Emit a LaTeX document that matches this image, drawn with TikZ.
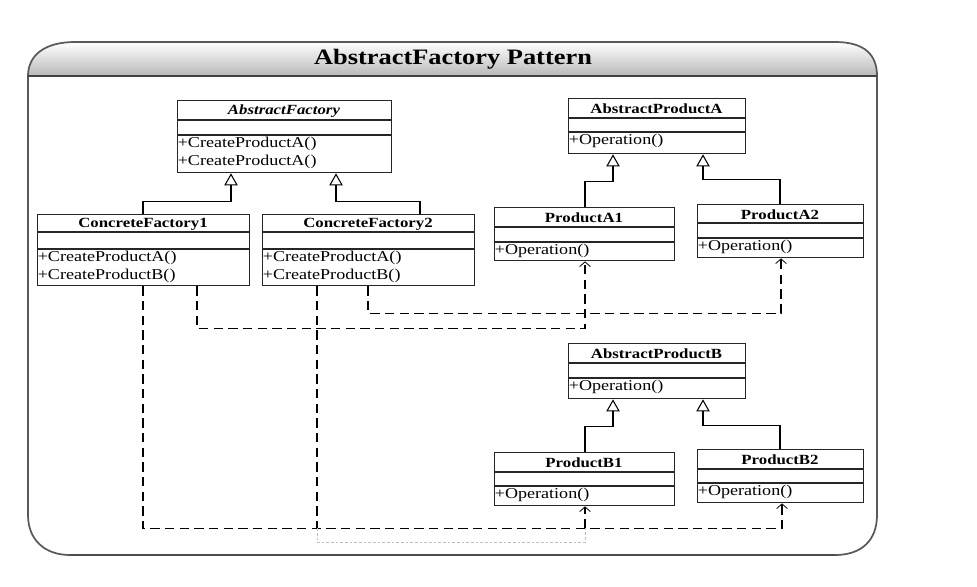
\documentclass[tikz,border=0pt]{standalone}
\usepackage{fontspec}
\setmainfont{Liberation Serif}[FakeStretch=1.2]
\usetikzlibrary{arrows.meta,calc}
\tikzset{
  classbox/.style={draw=black!85, line width=1pt, rectangle, inner sep=0pt, fill=white},
  sepline/.style={draw=black!85, line width=0.8pt},
  clstitle/.style={inner sep=0pt, font=\bfseries\fontsize{10.5}{12}\selectfont},
  clsmeth/.style={anchor=north west, align=left, inner xsep=0.4pt, inner ysep=1.5pt, font=\fontsize{11.3}{13.6}\selectfont},
  inh/.style={draw=black, line width=0.8pt, -{Triangle[open, width=10pt, length=9pt, fill=white]}},
  dep/.style={draw=black, line width=0.8pt, dash pattern=on 7pt off 4pt, -{Straight Barb[length=3.5pt, width=8pt, line width=0.6pt]}},
  deppart/.style={draw=black, line width=0.8pt, dash pattern=on 7pt off 4pt},
  faint/.style={draw=black!25, line width=0.6pt, dash pattern=on 2pt off 1.5pt},
}
\newcommand\umlclass[9]{%
  \node[classbox, minimum width={(#4-#2)*0.75pt}, minimum height={(#5-#3)*0.75pt}, anchor=north west] (#1) at (#2,#3) {};
  \draw[sepline] (#2,#6) -- (#4,#6);
  \draw[sepline] (#2,#7) -- (#4,#7);
  \node[clstitle] at ({(#2+#4)/2},{(#3+#6)/2+1}) {#8};
  \node[clsmeth] at (#2,#7) {#9};
}
\begin{document}
\begin{tikzpicture}[x=0.75pt, y=-0.75pt]
\useasboundingbox[fill=white] (0,0) rectangle (977,586);
% frame
\shade[top color=white, bottom color=black!28]
  (28,76) .. controls (28,55) and (45,42) .. (75,42) -- (835,42)
  .. controls (865,42) and (877,55) .. (877,76) -- cycle;
\draw[draw=black!65, line width=1.3pt]
  (28,76) .. controls (28,55) and (45,42) .. (75,42) -- (835,42)
  .. controls (865,42) and (877,55) .. (877,76)
  -- (877,515) .. controls (877,540) and (862,555) .. (835,555)
  -- (70,555) .. controls (45,555) and (28,540) .. (28,515) -- cycle;
\draw[draw=black!70, line width=2.2pt] (70,555) -- (835,555);
\draw[draw=black!75, line width=1.2pt] (28,76) -- (877,76);
\node[font=\bfseries\fontsize{16.5}{18}\selectfont] (title) at (453,59) {AbstractFactory Pattern};

% classes
\umlclass{AF}{177}{100}{391}{172}{120}{135}{\textit{AbstractFactory}}{+CreateProductA()\\+CreateProductA()}
\umlclass{CF1}{37}{214}{249}{285}{232}{249}{ConcreteFactory1}{+CreateProductA()\\+CreateProductB()}
\umlclass{CF2}{262}{214}{474}{285}{232}{249}{ConcreteFactory2}{+CreateProductA()\\+CreateProductB()}
\umlclass{APA}{568}{98}{745}{153}{118}{132}{AbstractProductA}{+Operation()}
\umlclass{PA1}{494}{207}{674}{260}{227}{242}{ProductA1}{+Operation()}
\umlclass{PA2}{697}{204}{863}{257}{223}{238}{ProductA2}{+Operation()}
\umlclass{APB}{568}{343}{745}{398}{363}{378}{AbstractProductB}{+Operation()}
\umlclass{PB1}{494}{452}{674}{505}{472}{486}{ProductB1}{+Operation()}
\umlclass{PB2}{697}{449}{863}{502}{469}{483}{ProductB2}{+Operation()}

% inheritance
\draw[inh] ($(CF1.north west)+(106,0)$) |- ($(AF.south west)+(54,28)$) -- ($(AF.south west)+(54,0)$);
\draw[inh] ($(CF2.north west)+(158,0)$) |- ($(AF.south west)+(159,28)$) -- ($(AF.south west)+(159,0)$);
\draw[inh] ($(PA1.north west)+(91,0)$) |- ($(APA.south west)+(45,27)$) -- ($(APA.south west)+(45,0)$);
\draw[inh] ($(PA2.north west)+(83,0)$) |- ($(APA.south west)+(135,25)$) -- ($(APA.south west)+(135,0)$);
\draw[inh] ($(PB1.north west)+(91,0)$) |- ($(APB.south west)+(45,27)$) -- ($(APB.south west)+(45,0)$);
\draw[inh] ($(PB2.north west)+(83,0)$) |- ($(APB.south west)+(135,26)$) -- ($(APB.south west)+(135,0)$);

% dependencies
\draw[dep] ($(CF1.south west)+(106,0)$) |- ($(PB2.south west)+(85,25)$) -- ($(PB2.south west)+(85,0)$);
\draw[dep] ($(CF1.south west)+(160,0)$) |- ($(PA1.south west)+(91,67)$) -- ($(PA1.south west)+(91,0)$);
\draw[dep] ($(CF2.south west)+(106,0)$) |- ($(PA2.south west)+(84,55)$) -- ($(PA2.south west)+(84,0)$);
\coordinate (d4a) at ($(CF2.south west)+(55,242)$);
\coordinate (d4b) at ($(PB1.south west)+(91,22)$);
\draw[deppart] ($(CF2.south west)+(55,0)$) -- (d4a);
\draw[faint] (d4a) -- ++(0,14) -| ($(d4b)+(0,14)$) -- (d4b);
\draw[dep] (d4b) -- ($(PB1.south west)+(91,0)$);
\end{tikzpicture}
\end{document}
